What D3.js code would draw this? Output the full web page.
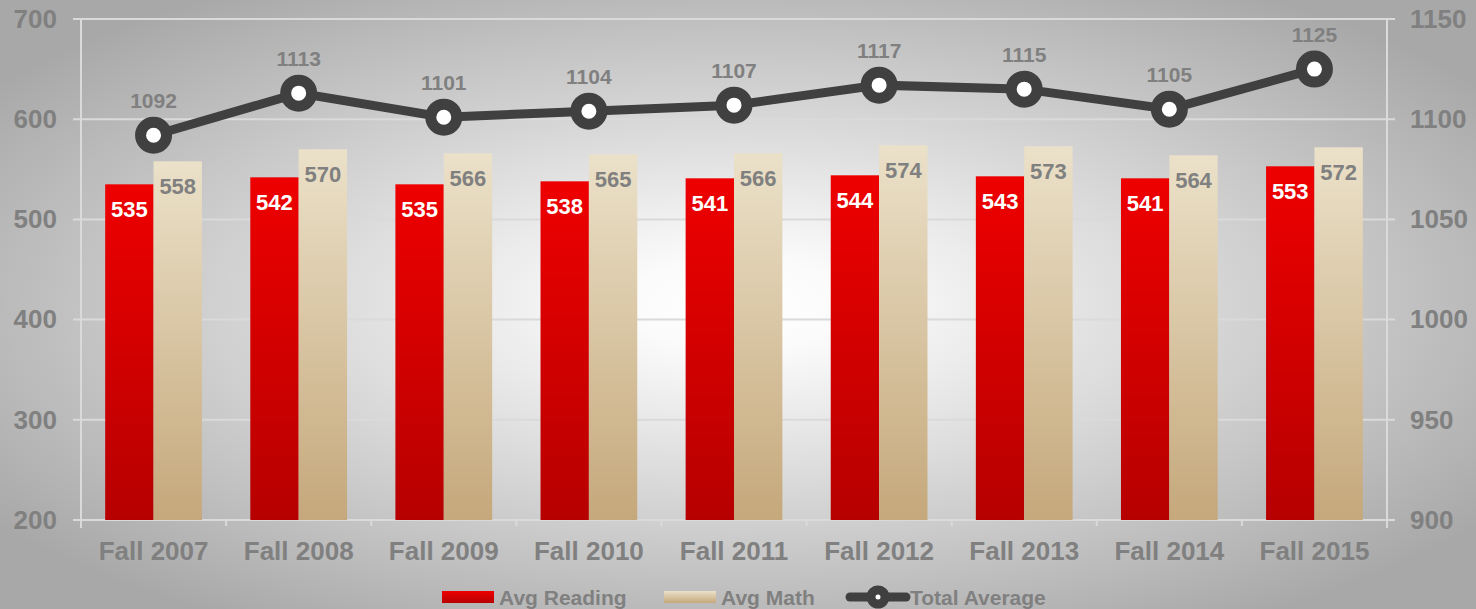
<!DOCTYPE html>
<html>
<head>
<meta charset="utf-8">
<script src="https://cdn.jsdelivr.net/npm/d3@7"></script>
<style>
  html, body { margin: 0; padding: 0; }
  svg { display: block; font-family: "Liberation Sans", Arial, sans-serif; font-weight: bold; }
</style>
</head>
<body>
<div id="chart"></div>
<script>
const categories = ['Fall 2007', 'Fall 2008', 'Fall 2009', 'Fall 2010', 'Fall 2011', 'Fall 2012', 'Fall 2013', 'Fall 2014', 'Fall 2015'];
const avgReading = [535, 542, 535, 538, 541, 544, 543, 541, 553];
const avgMath = [558, 570, 566, 565, 566, 574, 573, 564, 572];
const totalAverage = [1092, 1113, 1101, 1104, 1107, 1117, 1115, 1105, 1125];
const leftTicks = [200, 300, 400, 500, 600, 700];
const rightTicks = [900, 950, 1000, 1050, 1100, 1150];

const W = 1476, H = 609;
const plot = { left: 81, right: 1387, top: 19, bottom: 520 };
const grey = '#808080';
const gridColor = '#dadada';

const svg = d3.select('#chart')
  .append('svg')
    .attr('width', W)
    .attr('height', H);

const defs = svg.append('defs');

const bg = defs.append('radialGradient')
    .attr('id', 'bg')
    .attr('cx', '50%').attr('cy', '50%').attr('r', '62%');
bg.append('stop').attr('offset', '0').attr('stop-color', '#ffffff');
bg.append('stop').attr('offset', '0.12').attr('stop-color', '#fbfbfb');
bg.append('stop').attr('offset', '1').attr('stop-color', '#a8a8a8');

function vGrad(id, top, bottom) {
  const g = defs.append('linearGradient')
      .attr('id', id)
      .attr('x1', 0).attr('y1', 0).attr('x2', 0).attr('y2', 1);
  g.append('stop').attr('offset', '0').attr('stop-color', top);
  g.append('stop').attr('offset', '1').attr('stop-color', bottom);
}
vGrad('red', '#ee0000', '#b60000');
vGrad('tan', '#ebe1c9', '#c5a87b');

svg.append('rect')
    .attr('width', W)
    .attr('height', H)
    .attr('fill', 'url(#bg)');

const x = d3.scaleBand()
  .domain(categories)
  .range([plot.left, plot.right]);
const bw = x.bandwidth();

const xSub = d3.scaleBand()
  .domain(['reading', 'math'])
  .range([bw / 6, bw * 5 / 6]);

const yL = d3.scaleLinear()
  .domain([200, 700])
  .range([plot.bottom, plot.top]);

const yR = d3.scaleLinear()
  .domain([900, 1150])
  .range([plot.bottom, plot.top]);

// gridlines
svg.append('g')
  .selectAll('line')
  .data(leftTicks)
  .join('line')
    .attr('x1', plot.left - 8)
    .attr('x2', plot.right + 8)
    .attr('y1', d => yL(d))
    .attr('y2', d => yL(d))
    .attr('stroke', gridColor)
    .attr('stroke-width', 2);

// vertical axis lines
svg.append('g')
  .selectAll('line')
  .data([plot.left, plot.right])
  .join('line')
    .attr('x1', d => d)
    .attr('x2', d => d)
    .attr('y1', plot.top)
    .attr('y2', plot.bottom + 8)
    .attr('stroke', gridColor)
    .attr('stroke-width', 2);

// category boundary ticks
svg.append('g')
  .selectAll('line')
  .data(categories.slice(1))
  .join('line')
    .attr('x1', d => x(d))
    .attr('x2', d => x(d))
    .attr('y1', plot.bottom)
    .attr('y2', plot.bottom + 6)
    .attr('stroke', gridColor)
    .attr('stroke-width', 2);

// axes
const leftAxis = svg.append('g')
    .attr('transform', `translate(${plot.left},0)`)
    .call(d3.axisLeft(yL).tickValues(leftTicks).tickFormat(d3.format('d')).tickSize(0).tickPadding(24));

const rightAxis = svg.append('g')
    .attr('transform', `translate(${plot.right},0)`)
    .call(d3.axisRight(yR).tickValues(rightTicks).tickFormat(d3.format('d')).tickSize(0).tickPadding(23));

const bottomAxis = svg.append('g')
    .attr('transform', `translate(0,${plot.bottom})`)
    .call(d3.axisBottom(x).tickSize(0).tickPadding(22));

[leftAxis, rightAxis, bottomAxis].forEach(a => {
  a.select('.domain').remove();
  a.selectAll('text')
      .attr('fill', grey)
      .style('font-size', '26px')
      .style('font-weight', 'bold')
      .style('font-family', '"Liberation Sans", Arial, sans-serif');
});

// bars
const rows = categories.map((c, i) => ({ cat: c, reading: avgReading[i], math: avgMath[i], total: totalAverage[i] }));

const groups = svg.append('g')
  .selectAll('g')
  .data(rows)
  .join('g')
    .attr('transform', d => `translate(${x(d.cat)},0)`);

groups.append('rect')
    .attr('x', xSub('reading'))
    .attr('width', xSub.bandwidth())
    .attr('y', d => yL(d.reading))
    .attr('height', d => plot.bottom - yL(d.reading))
    .attr('fill', 'url(#red)');

groups.append('rect')
    .attr('x', xSub('math'))
    .attr('width', xSub.bandwidth())
    .attr('y', d => yL(d.math))
    .attr('height', d => plot.bottom - yL(d.math))
    .attr('fill', 'url(#tan)');

groups.append('text')
    .attr('x', xSub('reading') + xSub.bandwidth() / 2)
    .attr('y', d => yL(d.reading) + 33)
    .attr('text-anchor', 'middle')
    .attr('fill', '#ffffff')
    .style('font-size', '22px')
    .text(d => d.reading);

groups.append('text')
    .attr('x', xSub('math') + xSub.bandwidth() / 2)
    .attr('y', d => yL(d.math) + 33)
    .attr('text-anchor', 'middle')
    .attr('fill', grey)
    .style('font-size', '22px')
    .text(d => d.math);

// total average line
const cx = d => x(d.cat) + bw / 2;

svg.append('path')
    .datum(rows)
    .attr('fill', 'none')
    .attr('stroke', '#404040')
    .attr('stroke-width', 9)
    .attr('d', d3.line().x(cx).y(d => yR(d.total)));

svg.append('g')
  .selectAll('circle')
  .data(rows)
  .join('circle')
    .attr('cx', cx)
    .attr('cy', d => yR(d.total))
    .attr('r', 13)
    .attr('fill', '#ffffff')
    .attr('stroke', '#404040')
    .attr('stroke-width', 11);

svg.append('g')
  .selectAll('text')
  .data(rows)
  .join('text')
    .attr('x', cx)
    .attr('y', d => yR(d.total) - 27)
    .attr('text-anchor', 'middle')
    .attr('fill', grey)
    .style('font-size', '21px')
    .text(d => d.total);

// legend
const legend = svg.append('g');
const legendY = 597;

legend.append('rect')
    .attr('x', 442).attr('y', legendY - 6)
    .attr('width', 52).attr('height', 12)
    .attr('fill', 'url(#red)');
legend.append('text')
    .attr('x', 499).attr('y', legendY + 8)
    .attr('fill', grey)
    .style('font-size', '21px')
    .text('Avg Reading');

legend.append('rect')
    .attr('x', 664).attr('y', legendY - 6)
    .attr('width', 52).attr('height', 12)
    .attr('fill', 'url(#tan)');
legend.append('text')
    .attr('x', 721).attr('y', legendY + 8)
    .attr('fill', grey)
    .style('font-size', '21px')
    .text('Avg Math');

legend.append('line')
    .attr('x1', 850).attr('x2', 906)
    .attr('y1', legendY).attr('y2', legendY)
    .attr('stroke', '#404040')
    .attr('stroke-width', 9)
    .attr('stroke-linecap', 'round');
legend.append('circle')
    .attr('cx', 878).attr('cy', legendY)
    .attr('r', 7)
    .attr('fill', '#ffffff')
    .attr('stroke', '#404040')
    .attr('stroke-width', 9);
legend.append('text')
    .attr('x', 910).attr('y', legendY + 8)
    .attr('fill', grey)
    .style('font-size', '21px')
    .text('Total Average');
</script>
</body>
</html>
